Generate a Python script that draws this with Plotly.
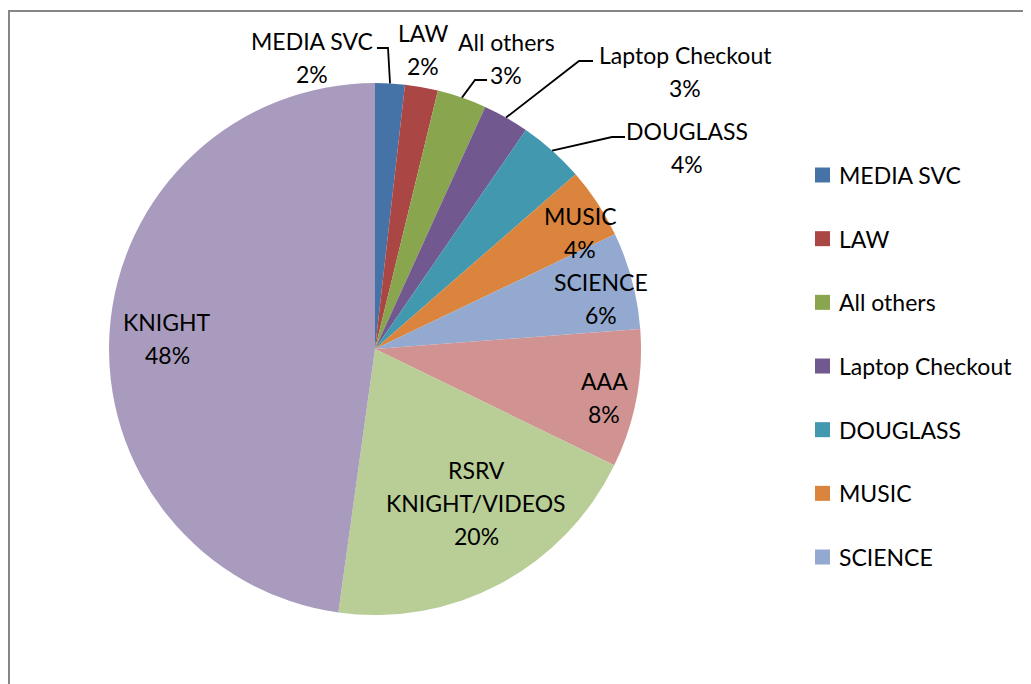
import math
import plotly.graph_objects as go

# ---- data ----
categories = ["MEDIA SVC", "LAW", "All others", "Laptop Checkout", "DOUGLASS",
              "MUSIC", "SCIENCE", "AAA", "RSRV KNIGHT/VIDEOS", "KNIGHT"]
shares = [1.8, 2.0, 3.0, 2.8, 4.0, 4.3, 5.9, 8.4, 20.0, 47.8]
colors = ["#4572A7", "#AA4643", "#89A54E", "#71588F", "#4198AF",
          "#DB843D", "#93A9CF", "#D19392", "#B9CD96", "#A99BBD"]
legend_count = 7  # the legend box only had room for the first seven entries

# ---- layout constants (pixels, in screen coordinates) ----
W, H = 1031, 684
OFF = 8  # page body margin
CX, CY, R = 375, 349, 266
FONT = "Lato"
FS = 23
LINE = 33

def px(x):
    return (x - OFF) / W

def py(y):
    return 1 - (y - OFF) / H

total = sum(shares)
pct_text = [f"{round(v / total * 100):.0f}%" for v in shares]

# label placement: (center x, top line y) in px
label_pos = {
    "MEDIA SVC": (312, 41),
    "LAW": (423, 33),
    "All others": (506, 42),
    "Laptop Checkout": (685, 55),
    "DOUGLASS": (687, 131),
    "MUSIC": (580, 216),
    "SCIENCE": (601, 282),
    "AAA": (604, 381),
    "RSRV KNIGHT/VIDEOS": (476, 470),
    "KNIGHT": (167, 322),
}
wrap = {"RSRV KNIGHT/VIDEOS": ["RSRV", "KNIGHT/VIDEOS"]}
# leader line elbows: (text end x, y, elbow x)
leaders = {
    "MEDIA SVC": (377, 48, 388),
    "All others": (487, 80, 475),
    "Laptop Checkout": (593, 61, 579),
    "DOUGLASS": (625, 137, 612),
}

fig = go.Figure()
fig.add_trace(go.Pie(
    labels=categories, values=shares, sort=False, direction="clockwise",
    rotation=0, marker=dict(colors=colors, line=dict(width=0)),
    textinfo="none", hoverinfo="label+percent", showlegend=False,
    domain=dict(x=[px(CX - R), px(CX + R)], y=[py(CY + R), py(CY - R)]),
))

annotations = []
shapes = []

# slice labels
for name, pct in zip(categories, pct_text):
    x, y0 = label_pos[name]
    lines = wrap.get(name, [name]) + [pct]
    for i, t in enumerate(lines):
        annotations.append(dict(
            x=px(x), y=py(y0 + i * LINE), xref="paper", yref="paper",
            text=t, showarrow=False, xanchor="center", yanchor="middle",
            font=dict(family=FONT, size=FS, color="black")))

# leader lines to slice mid-points
cum = 0
for name, v in zip(categories, shares):
    mid = (cum + v / 2) / total * 2 * math.pi
    cum += v
    if name in leaders:
        tx, ty, ex = leaders[name]
        sx = CX + R * math.sin(mid)
        sy = CY - R * math.cos(mid)
        path = f"M {px(tx)} {py(ty)} L {px(ex)} {py(ty)} L {px(sx)} {py(sy)}"
        shapes.append(dict(type="path", path=path, xref="paper", yref="paper",
                           line=dict(color="black", width=1.8)))

# legend (first seven entries)
LEG_X, LEG_Y0, LEG_DY, SQ = 815, 175, 63.67, 15
for i in range(legend_count):
    yc = LEG_Y0 + i * LEG_DY
    shapes.append(dict(type="rect", xref="paper", yref="paper",
                       x0=px(LEG_X), x1=px(LEG_X + SQ),
                       y0=py(yc - SQ / 2), y1=py(yc + SQ / 2),
                       fillcolor=colors[i], line=dict(width=0)))
    annotations.append(dict(
        x=px(837), y=py(yc), xref="paper", yref="paper", text=categories[i],
        showarrow=False, xanchor="left", yanchor="middle",
        font=dict(family=FONT, size=FS, color="black")))

# chart border (extends past the right and bottom of the crop)
shapes.append(dict(type="rect", xref="paper", yref="paper",
                   x0=px(9), x1=1.05, y0=-0.05, y1=py(11),
                   line=dict(color="#868686", width=2), fillcolor="rgba(0,0,0,0)",
                   layer="above"))

fig.update_layout(
    width=W, height=H, margin=dict(l=0, r=0, t=0, b=0),
    paper_bgcolor="white", plot_bgcolor="white",
    annotations=annotations, shapes=shapes, showlegend=False,
)
fig.write_html("out.html")
